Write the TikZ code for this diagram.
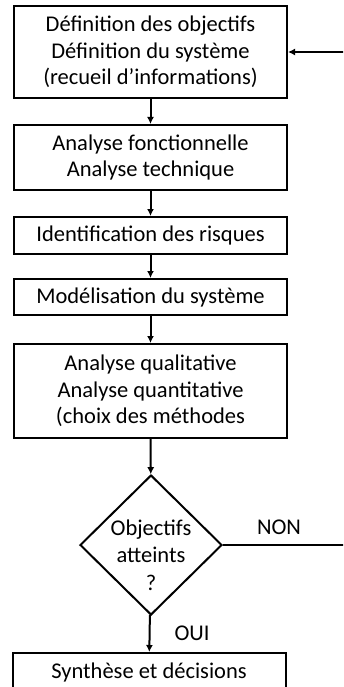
\documentclass[tikz,border=0pt]{standalone}
\usepackage{fontspec}
\setmainfont{Carlito}
\usetikzlibrary{shapes.geometric,arrows.meta}

\begin{document}
\begin{tikzpicture}[x=1pt,y=-1pt,
		box/.style={draw, line width=2pt, minimum width=273pt, inner sep=2pt, align=center, font=\fontsize{22.5}{26.5}\selectfont},
		choice/.style={draw, diamond, line width=2pt, minimum width=142pt, minimum height=140pt, inner sep=0pt},
		lbl/.style={align=center, font=\fontsize{22.5}{27.5}\selectfont},
		flow/.style={line width=2pt,-{Latex[length=7pt,width=7pt]}}]
		\clip (0,0) rectangle (343,687);

		\node[box, minimum height=92pt] (def) at (150.5,52) {Définition des objectifs\\Définition du système\\(recueil d’informations)};
		\node[box, minimum height=65pt] (ana) at (150.5,157.5) {Analyse fonctionnelle\\Analyse technique};
		\node[box, minimum height=37pt] (risk) at (150.5,235.5) {Identification des risques};
		\node[box, minimum height=36pt] (mod) at (150.5,297) {Modélisation du système};
		\node[box, minimum height=94pt] (qual) at (150.5,391) {Analyse qualitative\\Analyse quantitative\\(choix des méthodes};
		\node[choice] (obj) at (151,545) {};
		\node[lbl] (objtxt) at (151,555) {Objectifs\\atteints\\?};
		\node[box, minimum height=38pt] (syn) at (149,672) {Synthèse et décisions};

		\node[lbl] (non) at (279,527) {NON};
		\node[lbl] (oui) at (192,633) {OUI};

		\coordinate (back) at (350,545);

		\draw[flow] (def) -- (ana);
		\draw[flow] (ana) -- (risk);
		\draw[flow] (risk) -- (mod);
		\draw[flow] (mod) -- (qual);
		\draw[flow] (qual) -- (obj);
		\draw[flow] (obj) -- (syn);
		\draw[flow] (obj.east) -- (back) |- (def.east);
\end{tikzpicture}
\end{document}
